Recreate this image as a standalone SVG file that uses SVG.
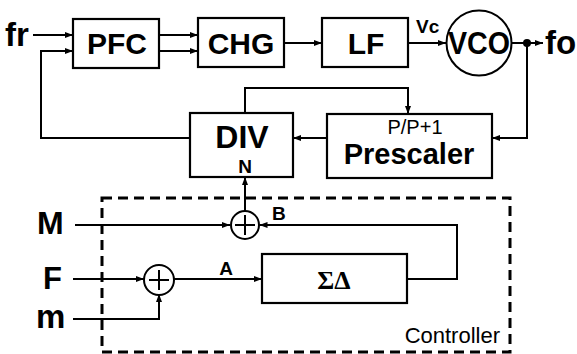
<svg xmlns="http://www.w3.org/2000/svg" width="577" height="354" viewBox="0 0 577 354">
<defs>
<marker id="ah" markerWidth="8" markerHeight="6" refX="8" refY="3" orient="auto" markerUnits="userSpaceOnUse">
<path d="M0,0 L8,3 L0,6 Z" fill="#000"/>
</marker>
<style>
.box{fill:#fff;stroke:#000;stroke-width:2.2}
.ln{fill:none;stroke:#000;stroke-width:2}
.big{font-family:"Liberation Sans",Arial,sans-serif;font-weight:bold;font-size:29px;fill:#000}
.sm{font-family:"Liberation Sans",Arial,sans-serif;font-weight:bold;font-size:19px;fill:#000}
.dash{fill:none;stroke:#000;stroke-width:3;stroke-dasharray:10 6}
</style>
</defs>
<rect width="577" height="354" fill="#fff"/>

<rect id="controller" class="dash" x="102" y="198" width="408" height="154"/>
<text class="sm" x="500" y="343" text-anchor="end" style="font-weight:normal;font-size:22px">Controller</text>

<g id="connectors">
<line class="ln" x1="33" y1="35" x2="73" y2="35" marker-end="url(#ah)"/>
<line class="ln" x1="159" y1="35" x2="198" y2="35" marker-end="url(#ah)"/>
<line class="ln" x1="159" y1="51" x2="198" y2="51" marker-end="url(#ah)"/>
<line class="ln" x1="284" y1="43" x2="322" y2="43" marker-end="url(#ah)"/>
<line class="ln" x1="408" y1="43" x2="446" y2="43" marker-end="url(#ah)"/>
<line class="ln" x1="511" y1="43" x2="543" y2="43" marker-end="url(#ah)"/>
<circle cx="527" cy="43" r="4" fill="#000"/>
<polyline class="ln" points="527,43 527,138 492,138" marker-end="url(#ah)"/>
<line class="ln" x1="327" y1="138" x2="293" y2="138" marker-end="url(#ah)"/>
<polyline class="ln" points="245,113 245,88 408,88 408,114" marker-end="url(#ah)"/>
<polyline class="ln" points="190,138 41,138 41,51 73,51" marker-end="url(#ah)"/>
<line class="ln" x1="245" y1="211" x2="245" y2="177" marker-end="url(#ah)"/>
<line class="ln" x1="75" y1="225" x2="230" y2="225" marker-end="url(#ah)"/>
<polyline class="ln" points="407,279 457,279 457,225 259.5,225" marker-end="url(#ah)"/>
<line class="ln" x1="73" y1="279" x2="144" y2="279" marker-end="url(#ah)"/>
<polyline class="ln" points="73,319 159,319 159,294" marker-end="url(#ah)"/>
<line class="ln" x1="174" y1="279" x2="262" y2="279" marker-end="url(#ah)"/>
</g>

<g id="fr"><text class="big" x="5" y="46" style="font-size:33px">fr</text></g>
<g id="fo"><text class="big" x="545" y="54" style="font-size:33px">fo</text></g>

<g id="pfc"><rect class="box" x="73" y="19" width="86" height="49"/><text class="big" x="117" y="54" text-anchor="middle" style="font-size:30px">PFC</text></g>
<g id="chg"><rect class="box" x="198" y="18" width="86" height="49"/><text class="big" x="241" y="54" text-anchor="middle" style="font-size:30px">CHG</text></g>
<g id="lf"><rect class="box" x="322" y="18" width="86" height="49"/><text class="big" x="366" y="54" text-anchor="middle" style="font-size:30px">LF</text></g>
<text class="sm" x="416" y="33">Vc</text>
<g id="vco"><circle cx="479" cy="43" r="32.5" fill="#fff" stroke="#000" stroke-width="2"/><text class="big" x="479" y="54" text-anchor="middle" textLength="62" lengthAdjust="spacingAndGlyphs" style="font-size:31px">VCO</text></g>

<g id="div"><rect class="box" x="190" y="113" width="103" height="64"/><text class="big" x="242" y="148" text-anchor="middle" style="font-size:32px">DIV</text><text class="sm" x="245" y="173" text-anchor="middle">N</text></g>
<g id="prescaler"><rect class="box" x="327" y="114" width="165" height="64"/><text class="sm" x="415" y="134" text-anchor="middle" style="font-weight:normal;font-size:20px">P/P+1</text><text class="big" x="409" y="164" text-anchor="middle" style="font-size:29px">Prescaler</text></g>

<g id="M"><text class="big" x="37" y="234" style="font-size:32px">M</text></g>
<g id="F"><text class="big" x="43" y="289" style="font-size:31px">F</text></g>
<g id="m"><text class="big" x="36" y="328" style="font-size:33px">m</text></g>

<g id="sum1"><circle cx="245" cy="225" r="14" fill="#fff" stroke="#000" stroke-width="2"/><path class="ln" d="M235,225 H255 M245,215 V235"/></g>
<text class="sm" x="272" y="220">B</text>
<g id="sum2"><circle cx="159" cy="280" r="15" fill="#fff" stroke="#000" stroke-width="2"/><path class="ln" d="M149,280 H169 M159,270 V290"/></g>
<text class="sm" x="226" y="275" text-anchor="middle">A</text>
<g id="sigmadelta"><rect class="box" x="262" y="254" width="145" height="49"/><text x="334" y="289" text-anchor="middle" style="font-family:'Liberation Serif','Times New Roman',serif;font-weight:bold;font-size:26px">ΣΔ</text></g>
</svg>
